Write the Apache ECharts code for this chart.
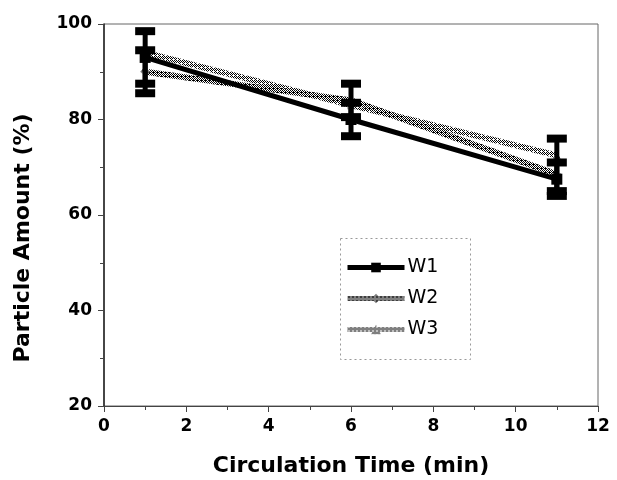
<!DOCTYPE html>
<html>
<head>
<meta charset="utf-8">
<script src="https://cdn.jsdelivr.net/npm/echarts@6/dist/echarts.min.js"></script>
<style>html,body{margin:0;padding:0;background:#fff}#c{width:617px;height:480px}</style>
</head>
<body>
<div id="c"></div>
<script>
const xValues = [1, 6, 11];
const seriesNames = ['W1', 'W2', 'W3'];
const w1 = [93, 80, 67.5];
const w2 = [90, 84, 68.5];
const w3 = [94, 83, 72.5];
const errW1Low = [87.5, 76.5, 64];
const errW1High = [98.5, 83.5, 71];
const errW2Low = [85.5, 80.5, 65];
const errW2High = [94.5, 87.5, 76];
const xTicks = [0, 2, 4, 6, 8, 10, 12];
const yTicks = [20, 40, 60, 80, 100];

function makePattern(cells) {
  const c = document.createElement('canvas');
  c.width = 4; c.height = 4;
  const ctx = c.getContext('2d');
  ctx.fillStyle = '#fff';
  ctx.fillRect(0, 0, 4, 4);
  ctx.fillStyle = '#000';
  cells.forEach(p => ctx.fillRect(p[0], p[1], 1, 1));
  return { image: c, repeat: 'repeat' };
}
const patDense = makePattern([[0,0],[2,0],[1,1],[3,1],[0,2],[2,2],[1,3],[3,3],[1,0]]);
const patLight = makePattern([[0,0],[2,0],[1,1],[3,1],[0,2],[2,2],[3,3]]);

function pts(arr) { return xValues.map((x, i) => [x, arr[i]]); }
function errData(lo, hi) { return xValues.map((x, i) => [x, lo[i], hi[i]]); }

function errRender(params, api) {
  const x = api.value(0);
  const top = api.coord([x, api.value(2)]);
  const bot = api.coord([x, api.value(1)]);
  const capW = 20, capH = 8, stemW = 5;
  return {
    type: 'group',
    children: [
      { type: 'rect', shape: { x: top[0] - stemW / 2, y: top[1], width: stemW, height: bot[1] - top[1] }, style: { fill: '#000' } },
      { type: 'rect', shape: { x: top[0] - capW / 2, y: top[1] - capH / 2, width: capW, height: capH }, style: { fill: '#000' } },
      { type: 'rect', shape: { x: bot[0] - capW / 2, y: bot[1] - capH / 2, width: capW, height: capH }, style: { fill: '#000' } }
    ]
  };
}

const chart = echarts.init(document.getElementById('c'));
const font = 'DejaVu Sans, Liberation Sans, Arial, sans-serif';
chart.setOption({
  animation: false,
  backgroundColor: '#fff',
  grid: { left: 104, right: 19, top: 24, bottom: 74, show: true, borderColor: '#666', borderWidth: 1,
    containLabel: false, outerBoundsMode: 'none' },
  xAxis: {
    type: 'value', min: 0, max: 12, interval: 2,
    name: 'Circulation Time (min)', nameLocation: 'middle', nameGap: 49,
    nameTextStyle: { fontFamily: font, fontWeight: 'bold', fontSize: 22, color: '#000' },
    axisLine: { show: true, lineStyle: { color: '#444', width: 1 } },
    axisTick: { show: true, length: 6, lineStyle: { color: '#444' } },
    minorTick: { show: true, splitNumber: 2, length: 4, lineStyle: { color: '#444' } },
    splitLine: { show: false },
    axisLabel: { fontFamily: font, fontWeight: 'bold', fontSize: 17, color: '#000', margin: 12,
      formatter: v => xTicks.includes(v) ? String(v) : '' }
  },
  yAxis: {
    type: 'value', min: 20, max: 100, interval: 20,
    name: 'Particle Amount (%)', nameLocation: 'middle', nameGap: 70,
    nameTextStyle: { fontFamily: font, fontWeight: 'bold', fontSize: 22, color: '#000', padding: [0, 46, 0, 0] },
    axisLine: { show: true, lineStyle: { color: '#222', width: 1.5 } },
    axisTick: { show: true, length: 6, lineStyle: { color: '#444' } },
    minorTick: { show: true, splitNumber: 2, length: 4, lineStyle: { color: '#444' } },
    splitLine: { show: false },
    axisLabel: { fontFamily: font, fontWeight: 'bold', fontSize: 17, color: '#000', margin: 12,
      formatter: v => yTicks.includes(v) ? String(v) : '' }
  },
  legend: {
    orient: 'vertical', left: 340, top: 253,
    itemWidth: 57, itemHeight: 12, itemGap: 12,
    lineStyle: { width: 5 },
    textStyle: { fontFamily: font, fontSize: 19, color: '#000', padding: [0, 0, 0, -2] },
    data: seriesNames
  },
  graphic: [{
    type: 'rect', left: 338, top: 236, z: -1,
    shape: { width: 130, height: 121 },
    style: { fill: 'none', stroke: '#999', lineWidth: 1, lineDash: [2, 3] }
  }],
  series: [
    { name: seriesNames[2], type: 'line', data: pts(w3), z: 2,
      lineStyle: { width: 6, color: patLight }, itemStyle: { color: patLight },
      symbol: 'triangle', symbolSize: 8 },
    { name: seriesNames[1], type: 'line', data: pts(w2), z: 3,
      lineStyle: { width: 6, color: patDense }, itemStyle: { color: patDense },
      symbol: 'diamond', symbolSize: 10 },
    { name: seriesNames[0], type: 'line', data: pts(w1), z: 4,
      lineStyle: { width: 5, color: '#000' }, itemStyle: { color: '#000' },
      symbol: 'rect', symbolSize: 11 },
    { type: 'custom', renderItem: errRender, data: errData(errW1Low, errW1High), z: 5 },
    { type: 'custom', renderItem: errRender, data: errData(errW2Low, errW2High), z: 5 }
  ]
});
</script>
</body>
</html>
